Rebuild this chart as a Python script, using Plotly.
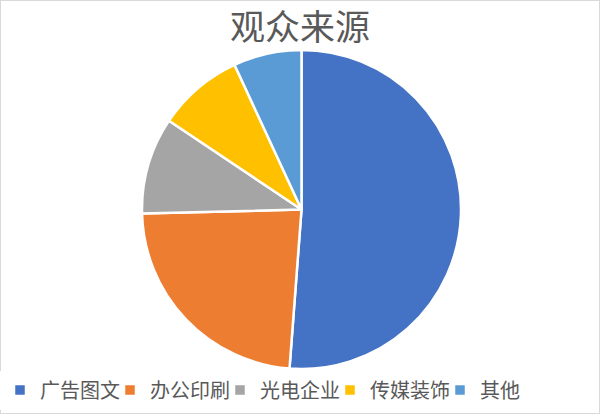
import plotly.graph_objects as go

# 数据
categorias = ["广告图文", "办公印刷", "光电企业", "传媒装饰", "其他"]
valores = [51.2, 23.4, 9.8, 8.7, 6.9]
cores = ["#4472C4", "#ED7D31", "#A5A5A5", "#FFC000", "#5B9BD5"]
titulo = "观众来源"

fig = go.Figure()

fig.add_trace(go.Pie(
    labels=categorias,
    values=valores,
    marker=dict(colors=cores, line=dict(color="white", width=2.5)),
    sort=False,
    direction="clockwise",
    rotation=0,
    textinfo="none",
    hoverinfo="label+percent",
    domain=dict(x=[142 / 600, 461 / 600], y=[45 / 414, 364 / 414]),
))

fig.update_layout(
    width=600,
    height=414,
    margin=dict(l=0, r=0, t=0, b=0),
    paper_bgcolor="white",
    plot_bgcolor="white",
    font=dict(family="Noto Sans CJK SC", color="#595959"),
    title=dict(
        text=titulo,
        x=0.5, xanchor="center",
        y=1 - 28 / 414, yanchor="middle",
        font=dict(size=35, color="#595959"),
    ),
    legend=dict(
        orientation="h",
        x=0, xanchor="left",
        y=24 / 414, yanchor="middle",
        font=dict(size=20, color="#595959"),
        itemwidth=30,
        entrywidth=65,
        tracegroupgap=0,
    ),
    shapes=[dict(
        type="rect", xref="paper", yref="paper",
        x0=0, x1=1, y0=0, y1=1,
        line=dict(color="#D9D9D9", width=2),
    )],
)

# tirar a margem padrão do body para a figura caber na janela
fig.write_html("out.html", config={"displayModeBar": False},
               post_script="document.body.style.margin='0';")
